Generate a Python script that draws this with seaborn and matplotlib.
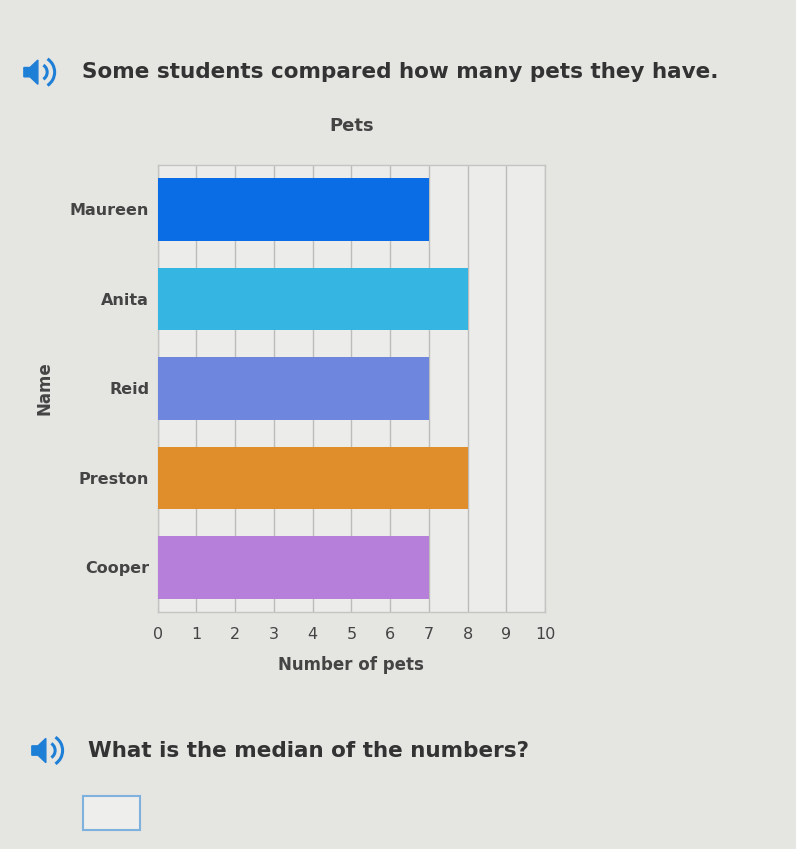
import pandas as pd
import seaborn as sns
import matplotlib.pyplot as plt
from matplotlib.patches import Rectangle, Polygon, Arc

# Data
names = ["Maureen", "Anita", "Reid", "Preston", "Cooper"]
pets = [7, 8, 7, 8, 7]
bar_colors = ["#0a6de6", "#35b6e2", "#6f86de", "#e08e2c", "#b680da"]

df = pd.DataFrame({"Name": names, "Pets": pets})

sns.set_style("white")
plt.rcParams["font.family"] = ["DejaVu Sans"]

fig = plt.figure(figsize=(7.96, 8.49), dpi=100)
fig.patch.set_facecolor("#e5e5e2")

ax = fig.add_axes([0.198, 0.279, 0.487, 0.527])
ax.set_facecolor("#ececea")

sns.barplot(
    data=df,
    x="Pets",
    y="Name",
    hue="Name",
    palette=bar_colors,
    saturation=1,
    width=0.7,
    linewidth=0,
    legend=False,
    ax=ax,
    zorder=3,
)

ax.set_xlim(0, 10)
ax.set_xticks(range(0, 11))
ax.grid(axis="x", color="#bcbcba", linewidth=1.0, zorder=0)
ax.set_axisbelow(True)
for s in ax.spines.values():
    s.set_color("#c4c4c2")
    s.set_linewidth(1)

ax.tick_params(axis="y", length=0, labelsize=11.5, colors="#444444", pad=6)
ax.tick_params(axis="x", length=0, labelsize=11.5, colors="#444444", pad=11)
for lbl in ax.get_yticklabels():
    lbl.set_fontweight("bold")
ax.set_title("Pets", fontsize=13, fontweight="bold", color="#444444", pad=24)
ax.set_xlabel("Number of pets", fontsize=12, fontweight="bold", color="#444444", labelpad=10)
ax.set_ylabel("Name", fontsize=12, fontweight="bold", color="#444444", labelpad=12)

# Question texts
fig.text(0.103, 0.915, "Some students compared how many pets they have.",
         fontsize=15.5, fontweight="bold", color="#333333", va="center")
fig.text(0.110, 0.116, "What is the median of the numbers?",
         fontsize=15.5, fontweight="bold", color="#333333", va="center")


def speaker(x, y):
    s = 0.011
    poly = Polygon([[x, y - s * 0.5], [x + s * 0.7, y - s * 0.5], [x + s * 1.6, y - s * 1.3],
                    [x + s * 1.6, y + s * 1.3], [x + s * 0.7, y + s * 0.5], [x, y + s * 0.5]],
                   closed=True, transform=fig.transFigure, color="#1e7fd6")
    fig.patches.append(poly)
    for r in (0.9, 1.7):
        fig.patches.append(Arc((x + s * 1.7, y), s * r * 2 * 849 / 796, s * r * 2,
                               theta1=-55, theta2=55, transform=fig.transFigure,
                               color="#1e7fd6", linewidth=2.2))


speaker(0.030, 0.915)
speaker(0.040, 0.116)

# Answer box
fig.patches.append(Rectangle((0.104, 0.022), 0.072, 0.040, transform=fig.transFigure,
                             facecolor="#eeeeec", edgecolor="#7fb1de", linewidth=1.5))

plt.savefig("out.png", dpi=100, facecolor=fig.get_facecolor())
